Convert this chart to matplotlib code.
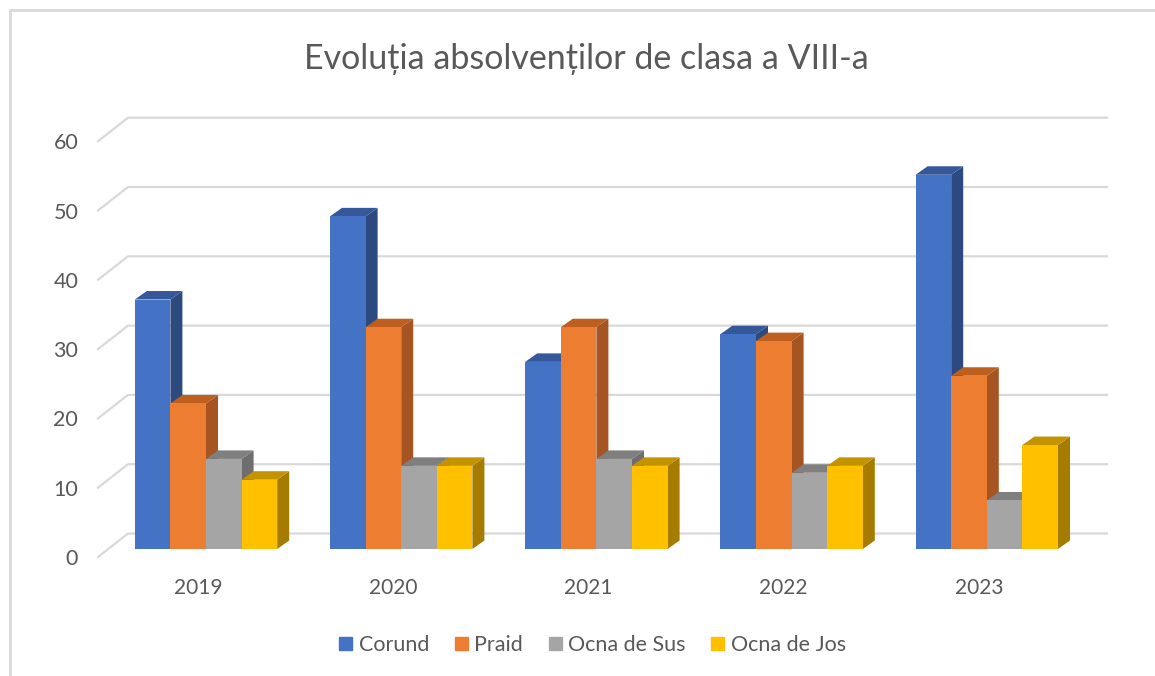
import numpy as np
import matplotlib
matplotlib.use('Agg')
import matplotlib.pyplot as plt
from matplotlib.lines import Line2D
from matplotlib.patches import Patch

plt.rcParams['font.family'] = ['Lato', 'Open Sans', 'DejaVu Sans']

## chart values
years   = ['2019', '2020', '2021', '2022', '2023']
corund  = [36, 48, 27, 31, 54]
praid   = [21, 32, 32, 30, 25]
ocna_s  = [13, 12, 13, 11, 7]
ocna_j  = [10, 12, 12, 12, 15]
yticks  = [0, 10, 20, 30, 40, 50, 60]
names   = ['Corund', 'Praid', 'Ocna de Sus', 'Ocna de Jos']
title   = 'Evoluția absolvenților de clasa a VIII-a'

series = [corund, praid, ocna_s, ocna_j]
front  = ['#4472C4', '#ED7D31', '#A5A5A5', '#FFC000']
top    = ['#34589A', '#BE5F20', '#7F7F7F', '#C49300']
side   = ['#2C4A80', '#A65422', '#6E6E6E', '#A67C00']

W, H = 1155, 676
grey = '#D9D9D9'
text = '#595959'

## pixel scale of the plot
px_x = 195.2        # pixels per category
px_y = 6.93         # pixels per unit
bar_w = 35.6 / px_x
depth_x = 12 / px_x
depth_y = 8.5 / px_y

fig = plt.figure(figsize=(W / 100, H / 100), dpi=100)

def make_axes(left, base):
    a = fig.add_axes([left / W, 1 - base / H, 5 * px_x / W, 60 * px_y / H])
    a.set_xlim(-0.5, 4.5)
    a.set_ylim(0, 60)
    a.patch.set_alpha(0)
    for s in a.spines.values():
        s.set_visible(False)
    return a

## outer frame
fig.add_artist(Line2D([10 / W, 10 / W, 1], [0, 1 - 10 / H, 1 - 10 / H], color=grey, lw=2))

## wall axes: holds gridlines and tick labels
wall = make_axes(100.4, 557)
wall.set_xticks(range(len(years)))
wall.set_xticklabels(years)
wall.set_yticks(yticks)
wall.tick_params(length=0, labelcolor=text)
wall.tick_params(axis='x', pad=15, labelsize=15)
wall.tick_params(axis='y', pad=16, labelsize=15.5)
x0 = -0.5 - 2.4 / px_x
x1 = x0 + 30 / px_x
x2 = x0 + 1009 / px_x
for y in yticks:
    up = y + 23.5 / px_y
    wall.plot([x0, x1, x2], [y, up, up], color=grey, lw=1.6, clip_on=False, zorder=1)

## bar axes: sits a little forward of the wall
ax = make_axes(108.4, 549)
ax.axis('off')
for j, vals in enumerate(series):
    pos = np.arange(len(vals)) - 2 * bar_w + j * bar_w
    for k, (p, v) in enumerate(zip(pos, vals)):
        z = 3 + j
        ax.fill([p + bar_w, p + bar_w + depth_x, p + bar_w + depth_x, p + bar_w],
                [0, depth_y, v + depth_y, v], color=side[j], lw=0, zorder=z, clip_on=False)
        ax.fill([p, p + depth_x, p + bar_w + depth_x, p + bar_w],
                [v, v + depth_y, v + depth_y, v], color=top[j], lw=0, zorder=z, clip_on=False)
    ax.bar(pos, vals, width=bar_w, align='edge', color=front[j], lw=0, zorder=3 + j + 0.5, clip_on=False)

## title
fig.text(586.5 / W, 1 - 59 / H, title, ha='center', va='center', fontsize=24.5, color=text)

## legend
handles = [Patch(color=c, label=n) for c, n in zip(front, names)]
fig.legend(handles=handles, loc='center', bbox_to_anchor=(592.5 / W, 1 - 645 / H), ncol=4, frameon=False,
           fontsize=15.5, labelcolor=text, handlelength=0.6, handleheight=0.6, handletextpad=0.3,
           columnspacing=1.2, borderpad=0)

fig.savefig('out.png', dpi=100)
